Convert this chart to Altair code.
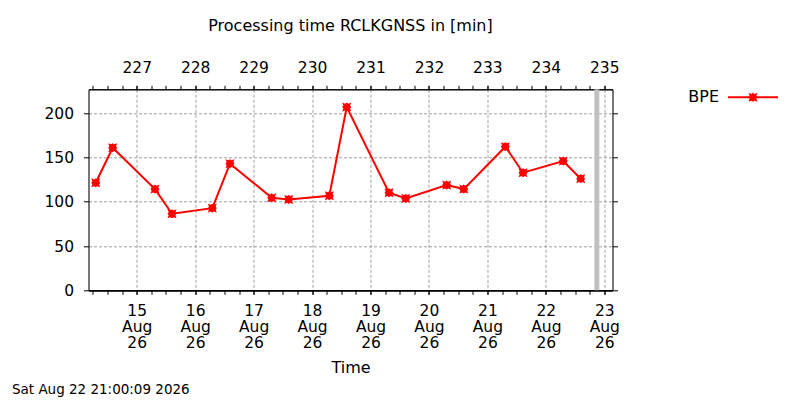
import altair as alt
import pandas as pd

# ---- data ----
series_name = ["BPE"]
times = [
    "2026-08-14T07:10:00", "2026-08-14T14:08:00",
    "2026-08-15T07:30:00", "2026-08-15T14:30:00",
    "2026-08-16T07:02:00", "2026-08-16T14:18:00",
    "2026-08-17T07:26:00", "2026-08-17T14:25:00",
    "2026-08-18T07:05:00", "2026-08-18T14:14:00",
    "2026-08-19T07:36:00", "2026-08-19T14:27:00",
    "2026-08-20T07:17:00", "2026-08-20T14:17:00",
    "2026-08-21T07:22:00", "2026-08-21T14:38:00",
    "2026-08-22T07:09:00", "2026-08-22T14:18:00",
]
minutes = [121.4, 161.0, 114.3, 86.4, 92.8, 143.0, 104.5, 102.6, 106.8,
           207.0, 110.2, 103.7, 118.8, 114.3, 162.2, 132.8, 146.0, 126.0]
now_time = ["2026-08-22T20:56:00"]
footer_text = ["Sat Aug 22 21:00:09 2026"]
title_text = "Processing time RCLKGNSS in [min]"
x_title = "Time"
y_ticks = [0, 50, 100, 150, 200]
tick_days = [15, 16, 17, 18, 19, 20, 21, 22, 23]          # major x ticks (Aug)
minor_hours = [0, 6, 12, 18]                               # minor x ticks each day

df = pd.DataFrame({"time": times, "minutes": minutes,
                   "series": series_name * len(times)})
now_df = pd.DataFrame({"time": now_time})
foot_df = pd.DataFrame({"text": footer_text})

FONT = "DejaVu Sans"
RED = "#ff0000"
GRID = "#a0a0a0"
LBL = 15.5

x_scale = alt.Scale(
    domain=[alt.DateTime(year=2026, month=8, date=14, hours=4, minutes=12),
            alt.DateTime(year=2026, month=8, date=23, hours=3, minutes=22)],
    nice=False)
y_scale = alt.Scale(domain=[0, 227], nice=False, zero=False)

major_vals = [alt.DateTime(year=2026, month=8, date=d) for d in tick_days]
minor_vals = [alt.DateTime(year=2026, month=8, date=d, hours=h)
              for d in [14] + tick_days for h in minor_hours]

# marker shape (notched square / star), in [-1,1] box
marker_pts = [(-1, -1), (-0.35, -0.75), (0, -1), (0.35, -0.75), (1, -1),
              (0.75, -0.35), (1, 0), (0.75, 0.35), (1, 1), (0.35, 0.75),
              (0, 1), (-0.35, 0.75), (-1, 1), (-0.75, 0.35), (-1, 0),
              (-0.75, -0.35)]


def path_from(pts, s=1.0):
    return "M" + "L".join(f"{x*s:.3f},{y*s:.3f}" for x, y in pts) + "Z"


MARKER = path_from(marker_pts)
LEGEND_SYMBOL = "M-1,-0.04L1,-0.04L1,0.04L-1,0.04Z" + path_from(marker_pts, 0.18)

common = dict(tickColor="black", domainColor="black", labelColor="black",
              labelFont=FONT, labelFontSize=LBL, domainWidth=1, tickWidth=1)


def xaxis(orient, values, labels=True, label_expr=None, pad=6, grid=False,
          title=None, ticks=True):
    kw = dict(orient=orient, values=values, labels=labels, grid=grid,
              ticks=ticks, tickSize=4, labelPadding=pad, labelFlush=False,
              labelOverlap=False, title=title, **common)
    if label_expr:
        kw["labelExpr"] = label_expr
    if grid:
        kw.update(gridDash=[3, 2], gridColor=GRID, gridWidth=1)
    if title:
        kw.update(titleFont=FONT, titleFontSize=16, titleFontWeight="normal",
                  titleColor="black", titlePadding=8)
    return alt.Axis(**kw)


ax_bottom_minor = xaxis("bottom", minor_vals, labels=False)
ax_top_minor = xaxis("top", minor_vals, labels=False)
ax_bottom_day = xaxis("bottom", major_vals, label_expr="timeFormat(datum.value, '%d')",
                      pad=9, grid=True)
ax_bottom_mon = xaxis("bottom", major_vals, label_expr="timeFormat(datum.value, '%b')",
                      pad=29.3, ticks=False)
ax_bottom_yr = xaxis("bottom", major_vals, label_expr="timeFormat(datum.value, '%y')",
                     pad=45.3, ticks=False, title=x_title)
ax_top_major = xaxis("top", major_vals, label_expr="timeFormat(datum.value, '%j')",
                     pad=10)

ax_left = alt.Axis(orient="left", values=y_ticks, labelPadding=10, tickSize=5,
                   grid=True, gridDash=[3, 2], gridColor=GRID, gridWidth=1,
                   title=None, **common)
ax_right = alt.Axis(orient="right", values=y_ticks, labels=False, tickSize=5,
                    grid=False, title=None, **common)


def ghost(axis):
    return alt.Chart(df).mark_line(opacity=0).encode(
        x=alt.X("time:T", scale=x_scale, axis=axis),
        y=alt.Y("minutes:Q", scale=y_scale, axis=None))


now_bar = alt.Chart(now_df).mark_rule(color="#c0c0c0", strokeWidth=5).encode(
    x=alt.X("time:T", scale=x_scale, axis=ax_bottom_minor))

line = alt.Chart(df).mark_line(color=RED, strokeWidth=2).encode(
    x=alt.X("time:T", scale=x_scale, axis=ax_top_major),
    y=alt.Y("minutes:Q", scale=y_scale, axis=ax_right))

points = alt.Chart(df).mark_point(filled=True, shape=MARKER, size=81, opacity=1).encode(
    x=alt.X("time:T", scale=x_scale, axis=ax_bottom_day),
    y=alt.Y("minutes:Q", scale=y_scale, axis=ax_left),
    color=alt.Color("series:N",
                    scale=alt.Scale(domain=series_name, range=[RED]),
                    legend=alt.Legend(orient="none", legendX=639.5, legendY=-17,
                                      title=None, padding=0,
                                      symbolType=LEGEND_SYMBOL, symbolSize=2500,
                                      symbolStrokeWidth=0, symbolFillColor=RED,
                                      labelAlign="right",
                                      labelOffset={"expr": "-59"},
                                      labelFont=FONT, labelFontSize=16,
                                      labelColor="black")))

footer = alt.Chart(foot_df).mark_text(align="left", baseline="alphabetic",
                                      font=FONT, fontSize=13.5, color="black").encode(
    text="text:N", x=alt.value(-76.5), y=alt.value(305.0))

chart = alt.layer(
    now_bar, ghost(ax_top_minor), ghost(ax_bottom_mon), ghost(ax_bottom_yr),
    line, points, footer
).resolve_axis(
    x="independent", y="independent"
).properties(
    width=524, height=201,
    padding={"left": 80.5, "top": 81.3, "right": 179.5, "bottom": 110},
    autosize=alt.AutoSizeParams(type="none"),
    title=alt.Title(title_text, font=FONT, fontSize=16, fontWeight="normal",
                    color="black", anchor="middle", frame="group", offset=26),
).configure_view(strokeWidth=0).configure(background="white")

chart.save("out.html", embed_options={"renderer": "svg", "actions": False})
